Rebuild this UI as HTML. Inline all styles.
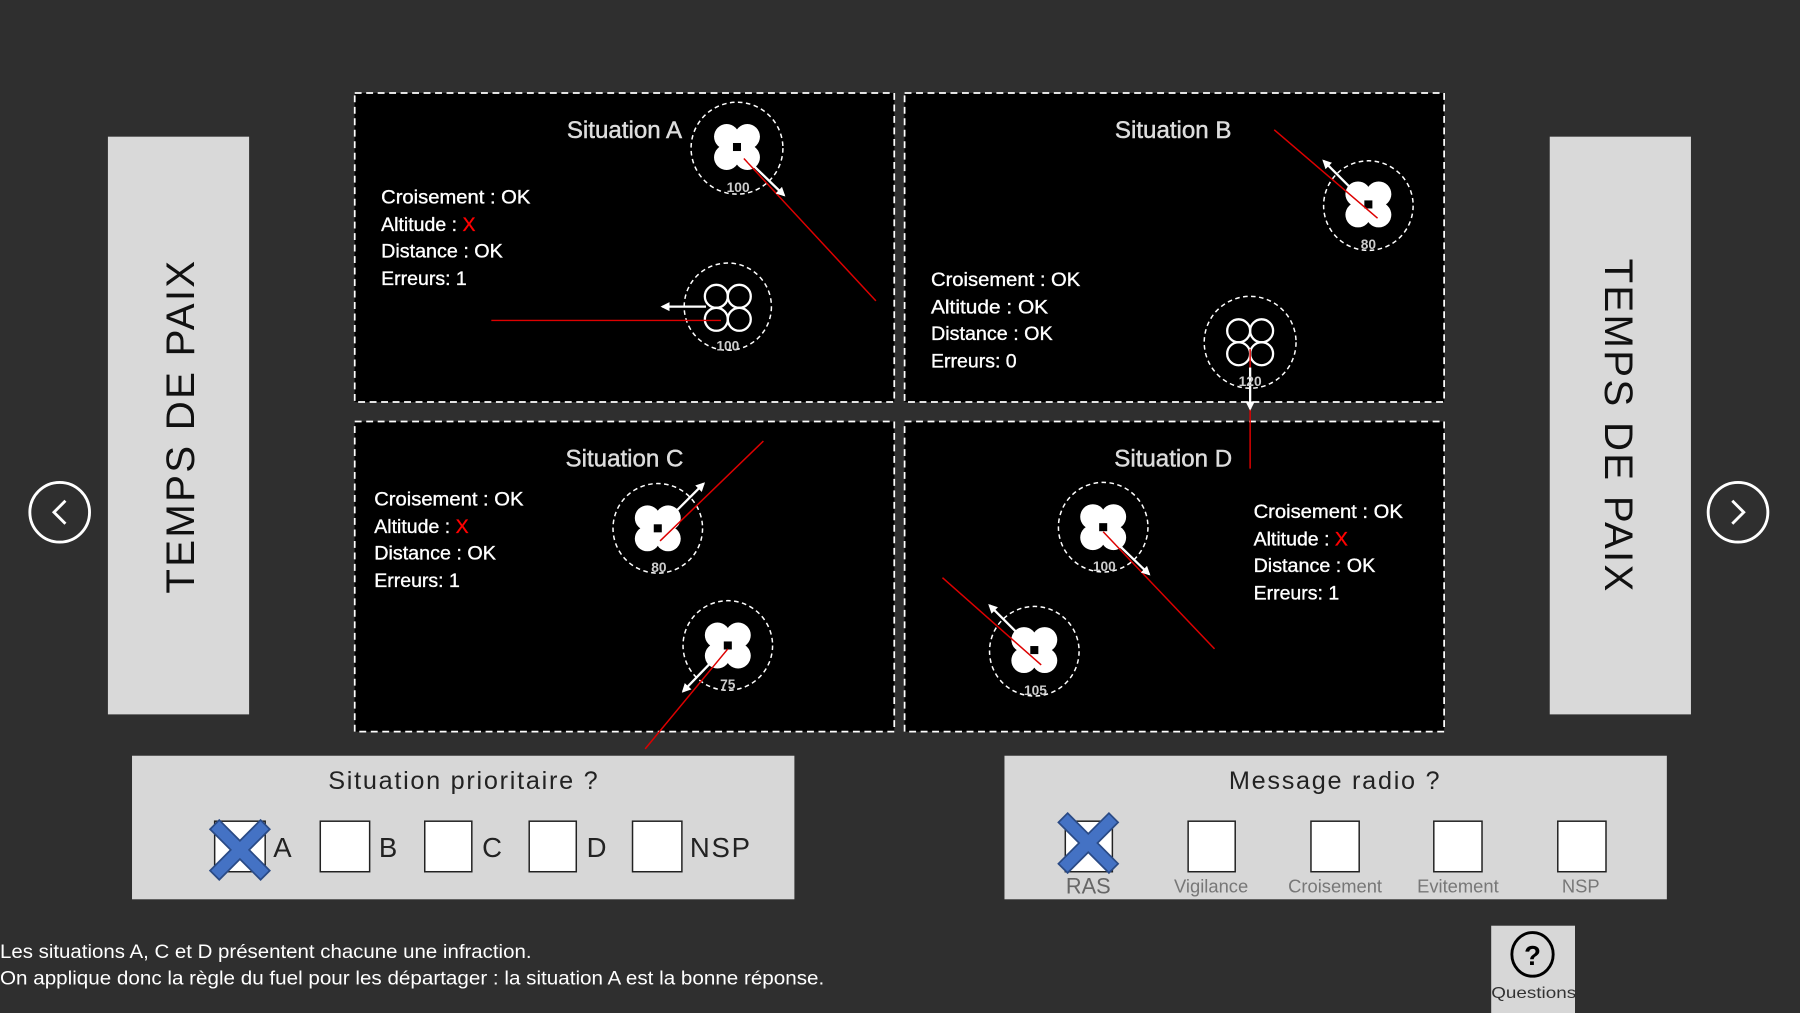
<!DOCTYPE html>
<html><head><meta charset="utf-8"><style>
html,body{margin:0;padding:0;background:#2f2f2f;width:1800px;height:1013px;overflow:hidden}
svg{display:block}
.t{font-family:"Liberation Sans",sans-serif}
</style></head><body>
<svg width="1800" height="1013" viewBox="0 0 1568 882" preserveAspectRatio="none" xmlns="http://www.w3.org/2000/svg">
<defs>
<g id="fd">
<circle cx="-9" cy="-9" r="11" fill="#fff"/><circle cx="9" cy="-9" r="11" fill="#fff"/>
<circle cx="-9" cy="9" r="11" fill="#fff"/><circle cx="9" cy="9" r="11" fill="#fff"/>
<rect x="-11" y="-11" width="22" height="22" fill="#fff"/>
<rect x="-3.5" y="-3.5" width="7" height="7" fill="#000"/>
</g>
<g id="hd" fill="none" stroke="#fff" stroke-width="2">
<circle cx="-10" cy="-10" r="10"/><circle cx="10" cy="-10" r="10"/>
<circle cx="-10" cy="10" r="10"/><circle cx="10" cy="10" r="10"/>
</g>
<marker id="ar" viewBox="0 0 10 10" refX="8" refY="5" markerWidth="4" markerHeight="4" orient="auto"><path d="M0,0L10,5L0,10z" fill="#fff"/></marker>
<g id="bx"><path d="M-18,-24L0,-6L18,-24L26,-16L8,2L26,20L18,28L0,10L-18,28L-26,20L-8,2L-26,-16z" fill="#4472c4" stroke="#2a4a85" stroke-width="1.5"/></g>
</defs>
<rect width="1568" height="882" fill="#2f2f2f"/>

<rect x="94" y="119" width="123" height="503" fill="#d9d9d9"/>
<text class="t" transform="translate(169,371) rotate(-90)" text-anchor="middle" font-size="35" fill="#111" letter-spacing="2">TEMPS DE PAIX</text>
<rect x="1350" y="119" width="123" height="503" fill="#d9d9d9"/>
<text class="t" transform="translate(1398,371) rotate(90)" text-anchor="middle" font-size="35" fill="#111" letter-spacing="2">TEMPS DE PAIX</text>

<circle cx="52" cy="446" r="26" fill="none" stroke="#fff" stroke-width="2.5"/>
<path d="M57,436L47,446L57,456" fill="none" stroke="#fff" stroke-width="2.5"/>
<circle cx="1514" cy="446" r="26" fill="none" stroke="#fff" stroke-width="2.5"/>
<path d="M1509,436L1519,446L1509,456" fill="none" stroke="#fff" stroke-width="2.5"/>

<g fill="#000" stroke="#fff" stroke-width="1.5" stroke-dasharray="6,4">
<rect x="309" y="81" width="470" height="269"/>
<rect x="788" y="81" width="470" height="269"/>
<rect x="309" y="367" width="470" height="270"/>
<rect x="788" y="367" width="470" height="270"/>
</g>
<g class="t" font-size="21" fill="#ddd" text-anchor="middle" stroke="#ddd" stroke-width="0.4">
<text x="544" y="120">Situation A</text>
<text x="1022" y="120">Situation B</text>
<text x="544" y="406">Situation C</text>
<text x="1022" y="406">Situation D</text>
</g>
<g class="t" font-size="17" fill="#fff" stroke="#fff" stroke-width="0.3">
<text x="332" y="177" textLength="130" lengthAdjust="spacingAndGlyphs">Croisement : OK</text>
<text x="332" y="201">Altitude : <tspan fill="#f00" stroke="#f00">X</tspan></text>
<text x="332" y="224" textLength="106" lengthAdjust="spacingAndGlyphs">Distance : OK</text>
<text x="332" y="248">Erreurs: 1</text>
<text x="811" y="249" textLength="130" lengthAdjust="spacingAndGlyphs">Croisement : OK</text>
<text x="811" y="273" textLength="102" lengthAdjust="spacingAndGlyphs">Altitude : OK</text>
<text x="811" y="296" textLength="106" lengthAdjust="spacingAndGlyphs">Distance : OK</text>
<text x="811" y="320">Erreurs: 0</text>
<text x="326" y="440" textLength="130" lengthAdjust="spacingAndGlyphs">Croisement : OK</text>
<text x="326" y="464">Altitude : <tspan fill="#f00" stroke="#f00">X</tspan></text>
<text x="326" y="487" textLength="106" lengthAdjust="spacingAndGlyphs">Distance : OK</text>
<text x="326" y="511">Erreurs: 1</text>
<text x="1092" y="451" textLength="130" lengthAdjust="spacingAndGlyphs">Croisement : OK</text>
<text x="1092" y="475">Altitude : <tspan fill="#f00" stroke="#f00">X</tspan></text>
<text x="1092" y="498" textLength="106" lengthAdjust="spacingAndGlyphs">Distance : OK</text>
<text x="1092" y="522">Erreurs: 1</text>
</g>

<g fill="none" stroke="#fff" stroke-width="1.3" stroke-dasharray="4,3">
<circle cx="642" cy="129" r="40"/>
<circle cx="634" cy="267" r="38"/>
<circle cx="1192" cy="179" r="39"/>
<circle cx="1089" cy="298" r="40"/>
<circle cx="573" cy="460" r="39"/>
<circle cx="634" cy="562" r="39"/>
<circle cx="961" cy="459" r="39"/>
<circle cx="901" cy="567" r="39"/>
</g>
<use href="#fd" x="642" y="128"/>
<use href="#hd" x="634" y="268"/>
<use href="#fd" x="1192" y="178"/>
<use href="#hd" x="1089" y="298"/>
<use href="#fd" x="573" y="460"/>
<use href="#fd" x="634" y="562"/>
<use href="#fd" x="961" y="459"/>
<use href="#fd" x="901" y="566"/>

<g stroke="#d00" stroke-width="1.3">
<line x1="648" y1="138" x2="763" y2="262"/>
<line x1="428" y1="279" x2="628" y2="279"/>
<line x1="1110" y1="113" x2="1200" y2="190"/>
<line x1="1089" y1="304" x2="1089" y2="408"/>
<line x1="575" y1="471" x2="665" y2="384"/>
<line x1="634" y1="565" x2="562" y2="652"/>
<line x1="961" y1="463" x2="1058" y2="565"/>
<line x1="821" y1="503" x2="907" y2="579"/>
</g>
<g stroke="#fff" stroke-width="2" marker-end="url(#ar)">
<line x1="652" y1="140" x2="683" y2="170"/>
<line x1="615" y1="267" x2="577" y2="267"/>
<line x1="1184" y1="171" x2="1153" y2="140"/>
<line x1="1089" y1="320" x2="1089" y2="356"/>
<line x1="584" y1="450" x2="613" y2="421"/>
<line x1="624" y1="572" x2="595" y2="602"/>
<line x1="973" y1="473" x2="1001" y2="500"/>
<line x1="891" y1="556" x2="862" y2="527"/>
</g>
<g class="t" font-size="12" font-weight="bold" fill="#ccc" text-anchor="middle">
<text x="643" y="167">100</text>
<text x="634" y="305">100</text>
<text x="1192" y="217">80</text>
<text x="1089" y="336">120</text>
<text x="574" y="498">80</text>
<text x="634" y="600">75</text>
<text x="962" y="497">100</text>
<text x="902" y="605">105</text>
</g>

<rect x="115" y="658" width="577" height="125" fill="#d7d7d7"/>
<text class="t" x="404" y="687" text-anchor="middle" font-size="22" fill="#222" letter-spacing="1.5">Situation prioritaire ?</text>
<g fill="#fff" stroke="#222" stroke-width="1.3">
<rect x="187" y="715" width="44" height="44"/>
<rect x="279" y="715" width="43" height="44"/>
<rect x="370" y="715" width="41" height="44"/>
<rect x="461" y="715" width="41" height="44"/>
<rect x="551" y="715" width="43" height="44"/>
</g>
<use href="#bx" x="209" y="738"/>
<g class="t" font-size="24" fill="#222">
<text x="238" y="746">A</text><text x="330" y="746">B</text><text x="420" y="746">C</text><text x="511" y="746">D</text><text x="601" y="746" letter-spacing="1.5">NSP</text>
</g>

<rect x="875" y="658" width="577" height="125" fill="#d7d7d7"/>
<text class="t" x="1163" y="687" text-anchor="middle" font-size="22" fill="#222" letter-spacing="1.5">Message radio ?</text>
<g fill="#fff" stroke="#222" stroke-width="1.3">
<rect x="928" y="715" width="41" height="44"/>
<rect x="1035" y="715" width="41" height="44"/>
<rect x="1142" y="715" width="42" height="44"/>
<rect x="1249" y="715" width="42" height="44"/>
<rect x="1357" y="715" width="42" height="44"/>
</g>
<use href="#bx" x="948" y="732"/>
<g class="t" font-size="16" fill="#777" text-anchor="middle">
<text x="948" y="778" font-size="19" fill="#666">RAS</text>
<text x="1055" y="777">Vigilance</text>
<text x="1163" y="777">Croisement</text>
<text x="1270" y="777">Evitement</text>
<text x="1377" y="777">NSP</text>
</g>

<rect x="1299" y="806" width="73" height="76" fill="#d7d7d7"/>
<ellipse cx="1335" cy="831" rx="18" ry="19" fill="none" stroke="#000" stroke-width="2.5"/>
<text class="t" x="1335" y="840" text-anchor="middle" font-size="24" font-weight="bold" fill="#000">?</text>
<text class="t" x="1336" y="869" text-anchor="middle" font-size="14" fill="#333" textLength="74" lengthAdjust="spacingAndGlyphs">Questions</text>

<g class="t" font-size="17" fill="#fff">
<text x="0" y="834" textLength="463" lengthAdjust="spacingAndGlyphs">Les situations A, C et D présentent chacune une infraction.</text>
<text x="0" y="857" textLength="718" lengthAdjust="spacingAndGlyphs">On applique donc la règle du fuel pour les départager : la situation A est la bonne réponse.</text>
</g>
</svg>
</body></html>
